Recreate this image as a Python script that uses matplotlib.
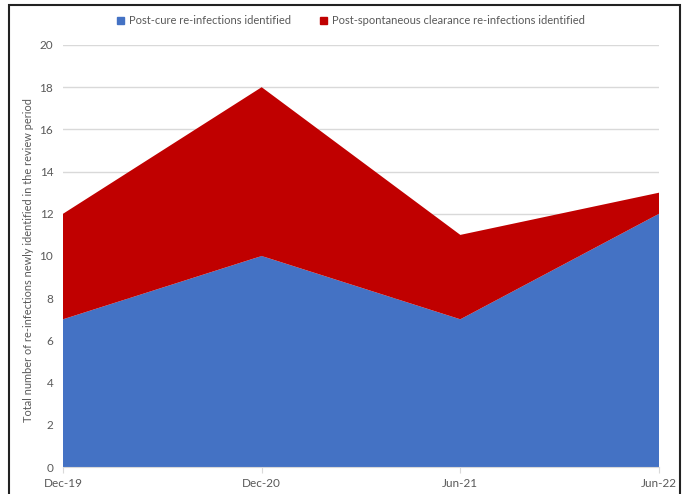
import matplotlib.pyplot as plt
from matplotlib.patches import Rectangle, Patch

plt.rcParams['font.family'] = ['Lato', 'DejaVu Sans']

periods = ['Dec-19', 'Dec-20', 'Jun-21', 'Jun-22']
post_cure = [7, 10, 7, 12]
post_spontaneous = [5, 8, 4, 1]

blue = '#4472c4'
red = '#c00000'
txt = '#595959'

fig = plt.figure(figsize=(6.87, 4.94), dpi=100)
ax = fig.add_axes([63 / 687, 1 - 467 / 494, (659 - 63) / 687, (467 - 45) / 494])

x = list(range(len(periods)))
ax.stackplot(x, post_cure, post_spontaneous, colors=[blue, red], linewidth=0)

ax.set_xlim(0, len(periods) - 1)
ax.set_ylim(0, 20)
ax.set_yticks(range(0, 21, 2))
ax.set_xticks(x)
ax.set_xticklabels(periods)
ax.grid(axis='y', color='#d9d9d9', linewidth=1)
ax.set_axisbelow(True)
for s in ['top', 'right', 'left']:
    ax.spines[s].set_visible(False)
ax.spines['bottom'].set_color('#d9d9d9')
ax.tick_params(axis='y', length=0, pad=7, labelsize=8.5, labelcolor=txt)
ax.tick_params(axis='x', length=4, color='#d9d9d9', pad=4, labelsize=8.5, labelcolor=txt)
ax.set_ylabel('Total number of re-infections newly identified in the review period',
              fontsize=7.9, color=txt)
ax.yaxis.set_label_coords(-0.048, 0.49)

handles = [Patch(color=blue), Patch(color=red)]
fig.legend(handles, ['Post-cure re-infections identified',
                     'Post-spontaneous clearance re-infections identified'],
           loc='center', bbox_to_anchor=(351 / 687, 1 - 21 / 494), ncol=2, frameon=False,
           fontsize=8, labelcolor=txt, handlelength=0.6, handleheight=0.6,
           handletextpad=0.5, columnspacing=2.6)

# outer frame
fig.add_artist(Rectangle((9 / 687, -0.05), (680 - 9) / 687, 1.05 - 5 / 494,
                         transform=fig.transFigure, fill=False, edgecolor='#222222',
                         linewidth=1.5))

fig.savefig('out.png', dpi=100)
